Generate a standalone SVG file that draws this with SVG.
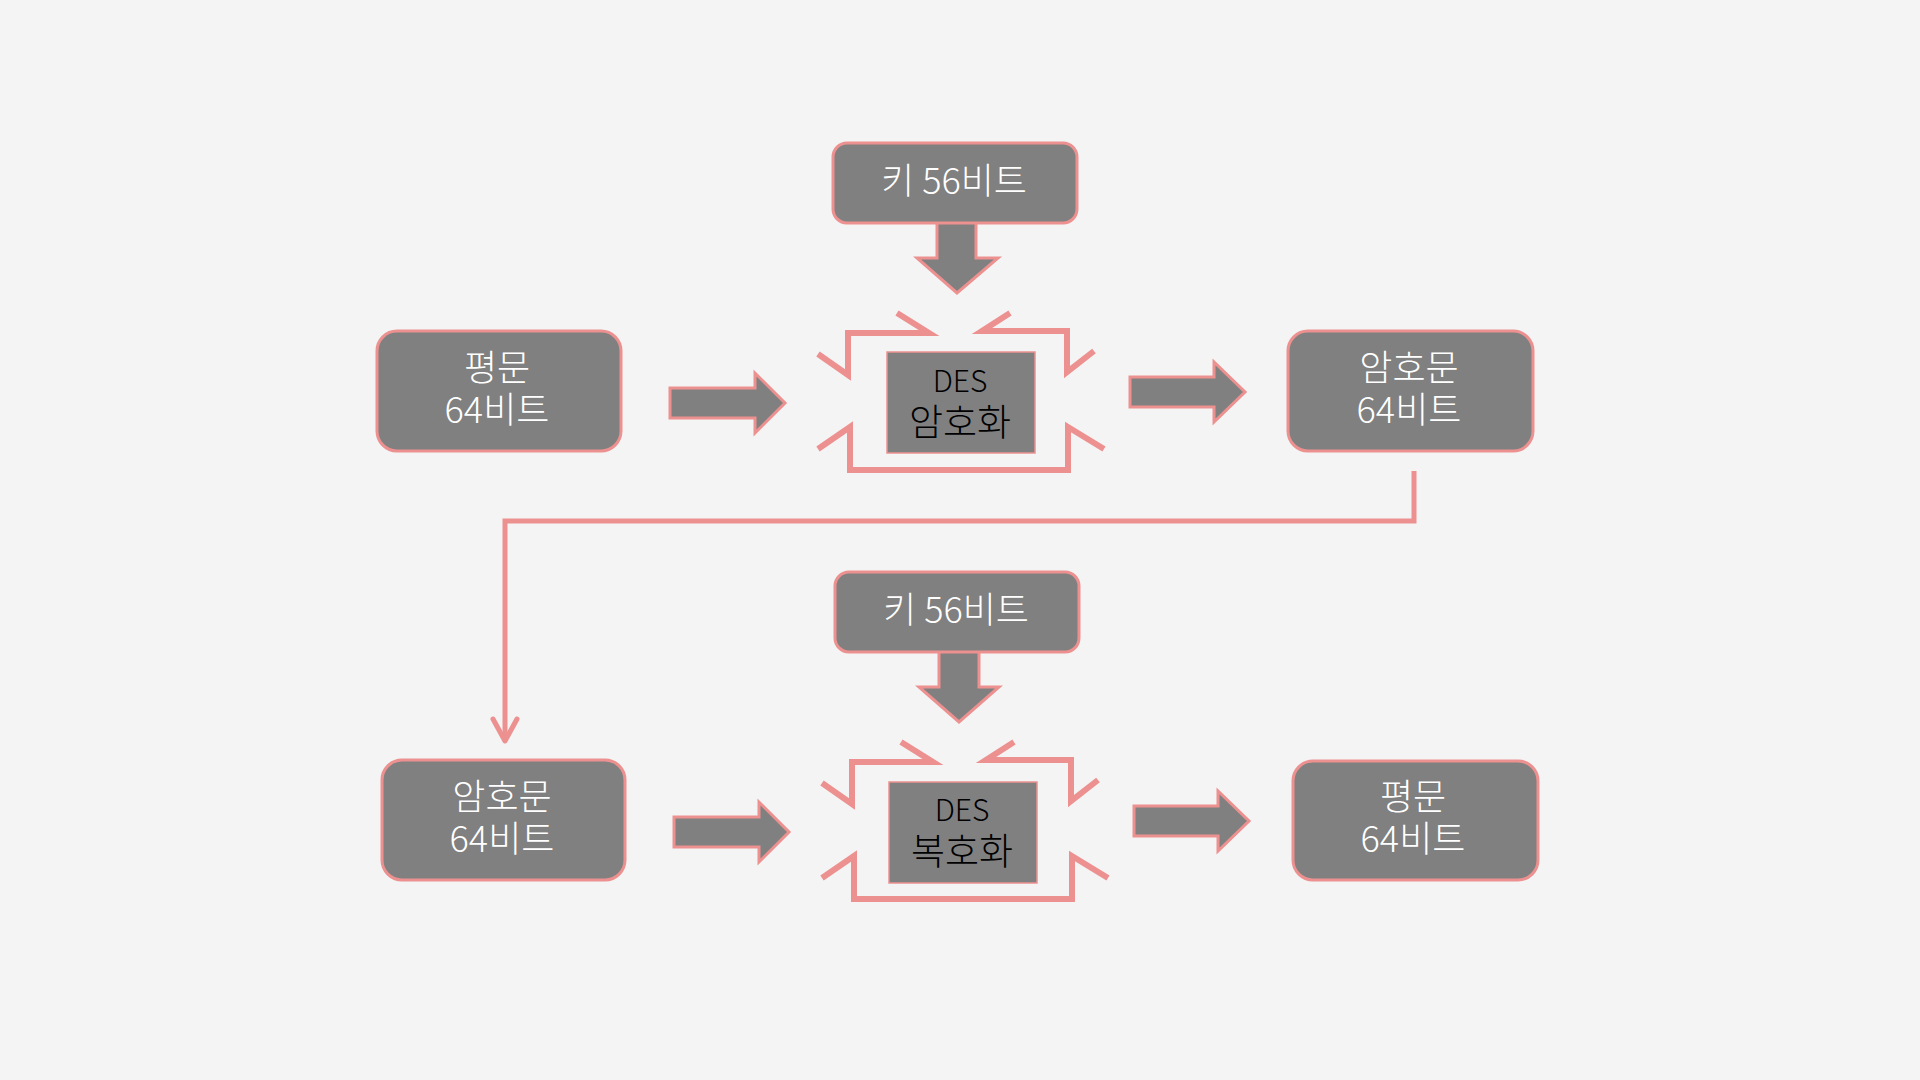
<svg xmlns="http://www.w3.org/2000/svg" width="1920" height="1080" viewBox="0 0 1920 1080">
  <defs>
    <style>
      .box { fill: #808080; stroke: #EC9090; stroke-width: 3; }
      .des { fill: #808080; stroke: #EC9090; stroke-width: 1.5; }
      .barrow { fill: #808080; stroke: #EC9090; stroke-width: 3; stroke-linejoin: miter; }
      .burst { fill: none; stroke: #EC9090; stroke-width: 6; stroke-linejoin: miter; stroke-linecap: butt; }
      .conn { fill: none; stroke: #EC9090; stroke-width: 5; }
      .wt { font-family: "Noto Sans CJK KR", "Noto Sans", sans-serif; font-weight: 300; font-size: 36px; fill: #FFFFFF; text-anchor: middle; }
      .bt { font-family: "Noto Sans CJK KR", "Noto Sans", sans-serif; font-weight: 300; font-size: 37px; fill: #000000; text-anchor: middle; }
      .lat { font-size: 30px; }
    </style>
    <marker id="ah" markerUnits="userSpaceOnUse" markerWidth="40" markerHeight="40" viewBox="-30 -20 40 40" refX="0" refY="0" orient="auto" overflow="visible">
      <path d="M-22,-12 L0,0 L-22,12" fill="none" stroke="#EC9090" stroke-width="5" stroke-linecap="round" stroke-linejoin="round"/>
    </marker>
  </defs>
  <rect x="0" y="0" width="1920" height="1080" fill="#F4F4F4"/>

  <g id="connectors">
    <!-- block arrows -->
    <polygon class="barrow" points="670,388 755,388 755,373 785,403 755,433 755,418 670,418"/>
    <polygon class="barrow" points="1130,377 1214,377 1214,362 1245,392 1214,422 1214,407 1130,407"/>
    <polygon class="barrow" points="674,817 759,817 759,802 789,832 759,862 759,847 674,847"/>
    <polygon class="barrow" points="1134,806 1218,806 1218,791 1249,821 1218,851 1218,836 1134,836"/>
    <polygon class="barrow" points="937,218 976,218 976,258 998,258 957,293 917,258 937,258"/>
    <polygon class="barrow" points="939,647 979,647 979,687 999,687 959,722 919,687 939,687"/>
    <!-- elbow connector -->
    <path class="conn" d="M1414,471 L1414,521 L505,521 L505,741" marker-end="url(#ah)"/>
    <!-- bursts around DES encrypt -->
    <path class="burst" d="M897,313 L929,333 L848,333 L848,375 L818,354"/>
    <path class="burst" d="M1010,313 L982,331 L1067,331 L1067,372 L1094,351"/>
    <path class="burst" d="M818,449 L850,427 L850,470 L1068,470 L1068,427 L1104,449"/>
    <!-- bursts around DES decrypt -->
    <path class="burst" d="M901,742 L933,762 L852,762 L852,804 L822,783"/>
    <path class="burst" d="M1014,742 L986,760 L1071,760 L1071,801 L1098,780"/>
    <path class="burst" d="M822,878 L854,856 L854,899 L1072,899 L1072,856 L1108,878"/>
  </g>

  <g id="key1">
    <rect class="box" x="833" y="143" width="244" height="80" rx="14"/>
    <text class="wt" x="954" y="194">키 56비트</text>
  </g>
  <g id="plain1">
    <rect class="box" x="377" y="331" width="244" height="120" rx="20"/>
    <text class="wt" x="497" y="381"><tspan x="497">평문</tspan><tspan x="497" dy="42">64비트</tspan></text>
  </g>
  <g id="des1">
    <rect class="des" x="887" y="352" width="148" height="101"/>
    <text class="bt" x="960" y="392"><tspan x="960" class="lat">DES</tspan><tspan x="960" dy="44">암호화</tspan></text>
  </g>
  <g id="cipher1">
    <rect class="box" x="1288" y="331" width="245" height="120" rx="20"/>
    <text class="wt" x="1409" y="381"><tspan x="1409">암호문</tspan><tspan x="1409" dy="42">64비트</tspan></text>
  </g>

  <g id="key2">
    <rect class="box" x="835" y="572" width="244" height="80" rx="14"/>
    <text class="wt" x="956" y="623">키 56비트</text>
  </g>
  <g id="cipher2">
    <rect class="box" x="382" y="760" width="243" height="120" rx="20"/>
    <text class="wt" x="502" y="810"><tspan x="502">암호문</tspan><tspan x="502" dy="42">64비트</tspan></text>
  </g>
  <g id="des2">
    <rect class="des" x="889" y="782" width="148" height="101"/>
    <text class="bt" x="962" y="821"><tspan x="962" class="lat">DES</tspan><tspan x="962" dy="44">복호화</tspan></text>
  </g>
  <g id="plain2">
    <rect class="box" x="1293" y="761" width="245" height="119" rx="20"/>
    <text class="wt" x="1413" y="810"><tspan x="1413">평문</tspan><tspan x="1413" dy="42">64비트</tspan></text>
  </g>
</svg>
